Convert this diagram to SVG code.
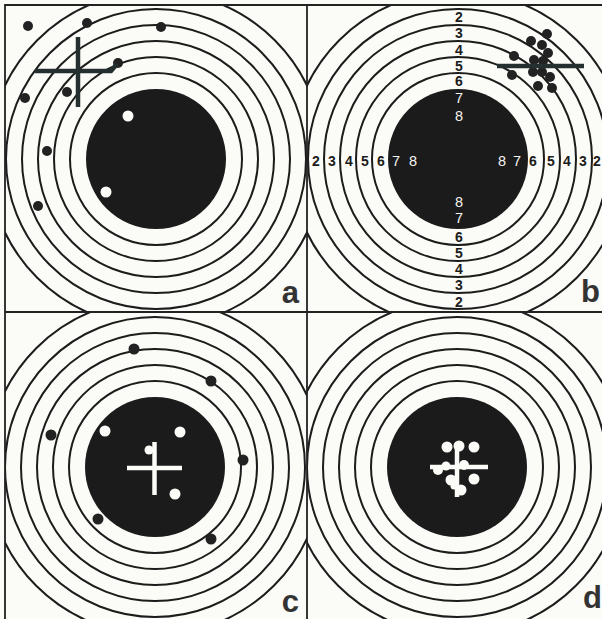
<svg xmlns="http://www.w3.org/2000/svg" xmlns:xlink="http://www.w3.org/1999/xlink" width="602" height="619" viewBox="0 0 602 619">
<style>
.ring{fill:none;stroke:#1c1c1c;stroke-width:2}
.disc{fill:#1b1b1b}
.shot{fill:#222}
.hole{fill:#fbfbf7}
.frame{stroke:#222;stroke-width:1.8;fill:none}
.mark{stroke:#243030;stroke-width:4.5;fill:none;stroke-linecap:butt}
.wmark{stroke:#fbfbf7;stroke-width:4.5;fill:none}
.lbl{font-family:"Liberation Sans",Arial,sans-serif;font-weight:bold;font-size:31px;fill:#333}
.nb{font-family:"Liberation Sans",Arial,sans-serif;font-weight:bold;font-size:14px;fill:#1c1c1c;text-anchor:middle}
.nw{font-family:"Liberation Sans",Arial,sans-serif;font-size:14.5px;fill:#f4f4f0;text-anchor:middle}
</style>
<defs>
<g id="target">
<circle class="disc" r="70"/>
<circle class="ring" r="86"/>
<circle class="ring" r="102"/>
<circle class="ring" r="118"/>
<circle class="ring" r="134"/>
<circle class="ring" r="150"/>
<circle class="ring" r="168"/>
</g>
<clipPath id="ca"><rect x="5" y="5" width="302" height="307"/></clipPath>
<clipPath id="cb"><rect x="307" y="5" width="295" height="307"/></clipPath>
<clipPath id="cc"><rect x="5" y="312" width="302" height="307"/></clipPath>
<clipPath id="cd"><rect x="307" y="312" width="295" height="307"/></clipPath>
</defs>
<rect width="602" height="619" fill="#fbfbf7"/>

<g id="panel-a">
<g clip-path="url(#ca)"><use xlink:href="#target" x="156" y="159"/></g>
<g class="shot">
<circle cx="28" cy="26" r="5"/><circle cx="87" cy="23" r="5"/><circle cx="161" cy="27" r="5"/>
<circle cx="118" cy="63" r="5"/><circle cx="67" cy="92" r="5"/><circle cx="25" cy="98" r="5"/>
<circle cx="47" cy="151" r="5"/><circle cx="38" cy="206" r="5"/>
</g>
<circle class="hole" cx="128" cy="116" r="5.5"/>
<circle class="hole" cx="106" cy="192" r="5.5"/>
<line class="mark" x1="78" y1="37" x2="78" y2="107"/>
<polyline class="mark" points="35,71 111,71 117,64"/>
<text class="lbl" x="299" y="303" text-anchor="end">a</text>
</g>

<g id="panel-b">
<g clip-path="url(#cb)"><use xlink:href="#target" x="458" y="159"/></g>
<g class="shot">
<circle cx="547" cy="34" r="5"/><circle cx="531" cy="41" r="5"/><circle cx="542" cy="45" r="5"/>
<circle cx="548" cy="53" r="5"/><circle cx="514" cy="56" r="5"/><circle cx="534" cy="60" r="5"/>
<circle cx="543" cy="61" r="5"/><circle cx="512" cy="75" r="5"/><circle cx="533" cy="72" r="5"/>
<circle cx="542" cy="72" r="5"/><circle cx="550" cy="77" r="5"/><circle cx="538" cy="86" r="5"/>
<circle cx="552" cy="88" r="5"/>
</g>
<line class="mark" x1="497" y1="66" x2="584" y2="66"/>
<g>
<text class="nb" x="459" y="22">2</text>
<text class="nb" x="459" y="38">3</text>
<text class="nb" x="459" y="55">4</text>
<text class="nb" x="459" y="71">5</text>
<text class="nb" x="459" y="86">6</text>
<text class="nw" x="459" y="103">7</text>
<text class="nw" x="459" y="121">8</text>
<text class="nw" x="459" y="207">8</text>
<text class="nw" x="459" y="223">7</text>
<text class="nb" x="459" y="242">6</text>
<text class="nb" x="459" y="258">5</text>
<text class="nb" x="459" y="274">4</text>
<text class="nb" x="459" y="290">3</text>
<text class="nb" x="459" y="307">2</text>
<text class="nb" x="316" y="166">2</text>
<text class="nb" x="332" y="166">3</text>
<text class="nb" x="349" y="166">4</text>
<text class="nb" x="365" y="166">5</text>
<text class="nb" x="381" y="166">6</text>
<text class="nw" x="396" y="166">7</text>
<text class="nw" x="413" y="166">8</text>
<text class="nw" x="502" y="166">8</text>
<text class="nw" x="517" y="166">7</text>
<text class="nb" x="533" y="166">6</text>
<text class="nb" x="551" y="166">5</text>
<text class="nb" x="567" y="166">4</text>
<text class="nb" x="583" y="166">3</text>
<text class="nb" x="597" y="166">2</text>
</g>
<text class="lbl" x="600" y="302" text-anchor="end">b</text>
</g>

<g id="panel-c">
<g clip-path="url(#cc)"><use xlink:href="#target" x="155" y="467"/></g>
<g class="shot">
<circle cx="134" cy="349" r="5.5"/><circle cx="211" cy="381" r="5.5"/><circle cx="51" cy="435" r="5.5"/>
<circle cx="243" cy="460" r="5.5"/><circle cx="98" cy="519" r="5.5"/><circle cx="211" cy="539" r="5.5"/>
</g>
<circle class="hole" cx="105" cy="431" r="5.5"/>
<circle class="hole" cx="180" cy="432" r="5.5"/>
<circle class="hole" cx="175" cy="494" r="5.5"/>
<circle class="hole" cx="149" cy="450" r="4.5"/>
<line class="wmark" x1="127" y1="468" x2="182" y2="468"/>
<line class="wmark" x1="154.5" y1="442" x2="154.5" y2="495"/>
<text class="lbl" x="299" y="612" text-anchor="end">c</text>
</g>

<g id="panel-d">
<g clip-path="url(#cd)"><use xlink:href="#target" x="457" y="467"/></g>
<g class="hole">
<circle cx="447" cy="447" r="5.5"/><circle cx="459" cy="446" r="5.5"/><circle cx="474" cy="447" r="5.5"/>
<circle cx="438" cy="470" r="5"/><circle cx="446" cy="466" r="4.5"/><circle cx="451" cy="480" r="5.5"/>
<circle cx="464" cy="465" r="5"/><circle cx="474" cy="479" r="5.5"/><circle cx="461" cy="490" r="5.5"/>
<circle cx="454" cy="486" r="3.5"/>
</g>
<line class="wmark" x1="430" y1="467" x2="488" y2="467"/>
<line class="wmark" x1="457" y1="449" x2="457" y2="497"/>
<text class="lbl" x="602" y="608" text-anchor="end">d</text>
</g>

<g id="frame">
<polyline class="frame" points="5,619 5,5 602,5"/>
<line class="frame" x1="307" y1="5" x2="307" y2="619"/>
<line class="frame" x1="5" y1="312" x2="602" y2="312"/>
</g>
</svg>
